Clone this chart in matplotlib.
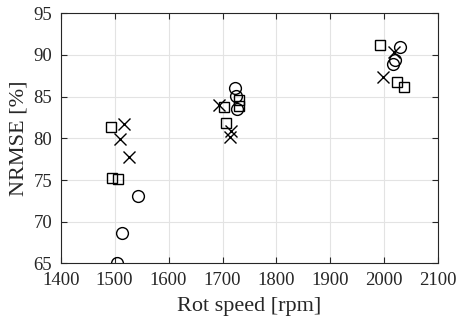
import matplotlib
matplotlib.use("Agg")
import matplotlib.pyplot as plt

sq_x = [1493, 1496, 1507, 1702, 1707, 1730, 1731, 1992, 2023, 2036]
sq_y = [81.4, 75.2, 75.1, 83.7, 81.8, 84.6, 83.9, 91.2, 86.7, 86.1]
x_x = [1517, 1510, 1527, 1694, 1716, 1713, 2018, 1998]
x_y = [81.7, 79.9, 77.8, 84.0, 80.9, 80.2, 90.3, 87.3]
c_x = [1543, 1513, 1504, 1724, 1725, 1727, 2029, 2020, 2016]
c_y = [73.1, 68.6, 65.1, 86.0, 85.1, 83.5, 90.9, 89.4, 88.9]

xticks = [1400, 1500, 1600, 1700, 1800, 1900, 2000, 2100]
yticks = [65, 70, 75, 80, 85, 90, 95]

plt.rcParams['font.family'] = ['Liberation Serif', 'DejaVu Serif']
fig = plt.figure(figsize=(4.58, 3.24), dpi=100)
ax = fig.add_axes([0.1325, 0.187, 0.8245, 0.772])

ax.plot(sq_x, sq_y, 's', ms=7, mfc='none', mec='black', mew=1.0, ls='none')
ax.plot(x_x, x_y, 'x', ms=8.5, mec='black', mew=1.0, ls='none')
ax.plot(c_x, c_y, 'o', ms=8.5, mfc='none', mec='black', mew=1.0, ls='none')

ax.set_xlim(1400, 2100)
ax.set_ylim(65, 95)
ax.set_xticks(xticks)
ax.set_yticks(yticks)
ax.grid(True, color='#e3e3e3', lw=0.8)
ax.set_axisbelow(True)
ax.tick_params(direction='in', length=4, width=0.8, colors='#262626', labelsize=13.5,
               top=True, right=True, labelcolor='#262626')
ax.tick_params(axis='x', pad=6)
ax.tick_params(axis='y', pad=6)
for s in ax.spines.values():
    s.set_color('#262626')
    s.set_linewidth(0.8)
ax.set_xlabel('Rot speed [rpm]', fontsize=16, color='#262626', labelpad=6)
ax.set_ylabel('NRMSE [%]', fontsize=16, color='#262626', labelpad=4)

fig.savefig('out.png', dpi=100)
